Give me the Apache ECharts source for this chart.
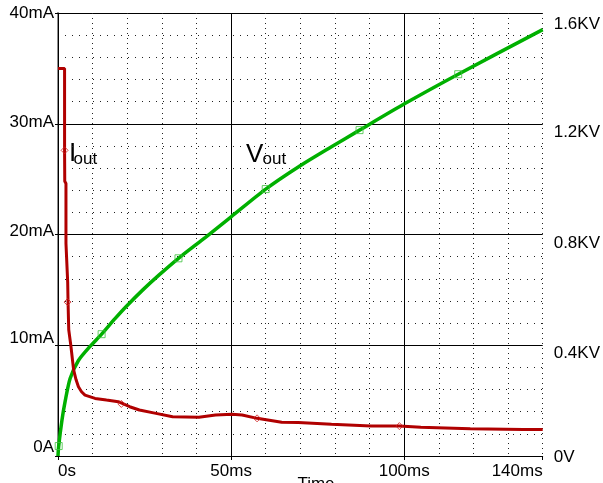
<!DOCTYPE html>
<html>
<head>
<meta charset="utf-8">
<script src="https://cdn.jsdelivr.net/npm/echarts@6/dist/echarts.min.js"></script>
<style>
  html, body { margin: 0; padding: 0; background: #fff; }
  #chart { width: 603px; height: 483px; }
</style>
</head>
<body>
<div id="chart"></div>
<script>
// output current (mA) vs time (ms)
const iTime  = [0, 1.9, 1.9, 1.95, 2.3, 2.3, 2.6, 2.8, 2.9, 3.1, 3.7, 4.5, 5.2, 5.9, 6.8, 7.8, 10.7, 14, 17.4, 20.7, 23.5, 28.3, 33.1, 40.7, 45.5, 50.3, 53.2, 57.5, 64.6, 69.4, 79, 90.4, 98.6, 104.8, 119.1, 134.4, 140];
const iValue = [35, 35, 27.6, 24.8, 24.6, 19.2, 19.1, 15.7, 13.9, 11.4, 10.0, 7.8, 6.9, 6.25, 5.8, 5.5, 5.2, 5.05, 4.9, 4.45, 4.15, 3.85, 3.55, 3.5, 3.7, 3.76, 3.7, 3.4, 3.05, 3.02, 2.86, 2.7, 2.7, 2.6, 2.47, 2.4, 2.4];
// output voltage (KV) vs time (ms)
const vTime  = [0, 0.2, 1.15, 2.1, 3.5, 5.9, 9.2, 12.6, 16.4, 19.7, 24.5, 29.3, 34.8, 42.6, 50, 60, 69.4, 79, 87.1, 100.2, 115.6, 140];
const vValue = [0, 0.036, 0.13, 0.2, 0.28, 0.345, 0.395, 0.44, 0.495, 0.54, 0.6, 0.655, 0.714, 0.79, 0.864, 0.964, 1.044, 1.117, 1.177, 1.273, 1.379, 1.54];
// probe markers
const iMarkTime  = [1.9, 2.75, 18.3, 57.5, 98.6];
const iMarkValue = [27.6, 13.9, 4.7, 3.4, 2.7];
const vMarkTime  = [0.2, 12.6, 34.8, 60, 87.1, 115.6];
const vMarkValue = [0.036, 0.44, 0.714, 0.964, 1.177, 1.379];
// axis labels
const currentTicks  = [0, 10, 20, 30, 40];
const currentLabels = ['0A', '10mA', '20mA', '30mA', '40mA'];
const voltageTicks  = [0, 0.4, 0.8, 1.2, 1.6];
const voltageLabels = ['0V', '0.4KV', '0.8KV', '1.2KV', '1.6KV'];

const FONT = '"Liberation Sans", Arial, sans-serif';
const zip = (a, b) => a.map((x, i) => [x, b[i]]);

// labels sit a bit off their grid lines in the original plot
const leftShift = [-9, -6.5, -3.5, -1.5, 0];
const rightShift = [1, 8, 9, 9, 11];
function shiftRich(prefix, shifts) {
  const rich = {};
  shifts.forEach((d, i) => {
    rich[prefix + i] = {
      fontSize: 17, fontFamily: FONT, color: '#000',
      padding: d >= 0 ? [2 * d, 0, 0, 0] : [0, 0, -2 * d, 0]
    };
  });
  return rich;
}
function tickIndex(ticks, v) {
  return ticks.findIndex(t => Math.abs(t - v) < 1e-6);
}

const chart = echarts.init(document.getElementById('chart'));
const option = {
  animation: false,
  backgroundColor: '#fff',
  grid: { left: 58, right: 57, top: 13, bottom: 27 },
  xAxis: [
    {
      type: 'value', min: 0, max: 140, interval: 50,
      axisLine: { lineStyle: { color: '#000', width: 1 } },
      axisTick: { length: 4, lineStyle: { color: '#000' } },
      axisLabel: {
        margin: 7, fontSize: 17, fontFamily: FONT, color: '#000',
        alignMinLabel: 'left', alignMaxLabel: 'right',
        formatter: v => (v === 0 ? '0s' : v + 'ms')
      },
      splitLine: { show: true, showMaxLine: false, lineStyle: { color: '#000', width: 1 } },
      z: 3
    },
    {
      type: 'value', min: 0, max: 140, interval: 10,
      axisLine: { show: false }, axisTick: { show: false }, axisLabel: { show: false },
      splitLine: { show: true, lineStyle: { color: '#222', width: 1, type: [1, 4] } },
      z: 1
    }
  ],
  yAxis: [
    {
      type: 'value', min: 0, max: 40, interval: 10, position: 'left',
      axisLine: { show: true, lineStyle: { color: '#808080', width: 2 } },
      axisTick: { show: true, length: 3, lineStyle: { color: '#000' } },
      axisLabel: {
        margin: 4, fontSize: 17, fontFamily: FONT, color: '#000',
        formatter: v => {
          const i = tickIndex(currentTicks, v);
          return '{l' + i + '|' + currentLabels[i] + '}';
        },
        rich: shiftRich('l', leftShift)
      },
      splitLine: { show: true, lineStyle: { color: '#000', width: 1 } },
      minorTick: { show: false, splitNumber: 5 },
      minorSplitLine: { show: true, lineStyle: { color: '#222', width: 1, type: [1, 6] } }
    },
    {
      type: 'value', min: 0, max: 1.6, interval: 0.4, position: 'right',
      axisLine: { show: true, lineStyle: { color: '#909090', width: 1.5 } },
      axisTick: { show: false },
      axisLabel: {
        margin: 11, fontSize: 17, fontFamily: FONT, color: '#000',
        formatter: v => {
          const i = tickIndex(voltageTicks, v);
          return '{r' + i + '|' + voltageLabels[i] + '}';
        },
        rich: shiftRich('r', rightShift)
      },
      splitLine: { show: false }
    }
  ],
  graphic: [
    { type: 'text', x: 69, y: 154, style: { text: 'I', font: '26px ' + FONT, fill: '#000', textVerticalAlign: 'middle', verticalAlign: 'middle' } },
    { type: 'text', x: 73.5, y: 159.5, style: { text: 'out', font: '17px ' + FONT, fill: '#000', textVerticalAlign: 'middle', verticalAlign: 'middle' } },
    { type: 'text', x: 246, y: 154.5, style: { text: 'V', font: '26px ' + FONT, fill: '#000', textVerticalAlign: 'middle', verticalAlign: 'middle' } },
    { type: 'text', x: 262.5, y: 159.7, style: { text: 'out', font: '17px ' + FONT, fill: '#000', textVerticalAlign: 'middle', verticalAlign: 'middle' } },
    { type: 'text', x: 316, y: 476, style: { text: 'Time', font: '17px ' + FONT, fill: '#000', textAlign: 'center', align: 'center', textVerticalAlign: 'top', verticalAlign: 'top' } }
  ],
  series: [
    {
      name: 'Vout', type: 'line', xAxisIndex: 0, yAxisIndex: 1,
      data: zip(vTime, vValue), showSymbol: false,
      smooth: 0.25,
      lineStyle: { color: '#00b000', width: 3.5 }, z: 4
    },
    {
      name: 'Vout marks', type: 'scatter', xAxisIndex: 0, yAxisIndex: 1,
      data: zip(vMarkTime, vMarkValue), symbol: 'rect', symbolSize: 7,
      itemStyle: { color: 'rgba(0,0,0,0)', borderColor: '#3cc03c', borderWidth: 1 }, z: 5
    },
    {
      name: 'Iout', type: 'line', xAxisIndex: 0, yAxisIndex: 0,
      data: zip(iTime, iValue), showSymbol: false,
      lineStyle: { color: '#b00000', width: 3 }, z: 6
    },
    {
      name: 'Iout marks', type: 'scatter', xAxisIndex: 0, yAxisIndex: 0,
      data: zip(iMarkTime, iMarkValue), symbol: 'diamond', symbolSize: 7,
      itemStyle: { color: 'rgba(0,0,0,0)', borderColor: '#d02020', borderWidth: 1 }, z: 7
    }
  ]
};
chart.setOption(option);
</script>
</body>
</html>
